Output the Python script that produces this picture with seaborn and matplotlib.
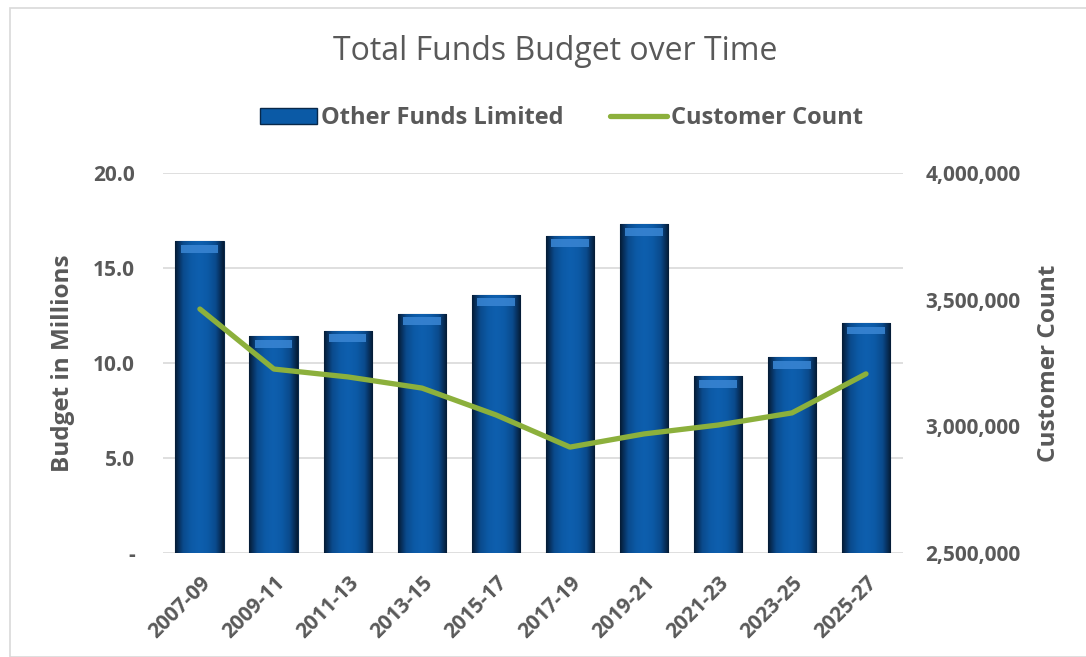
import numpy as np
import pandas as pd
import matplotlib
matplotlib.use("Agg")
import matplotlib.pyplot as plt
import seaborn as sns
from matplotlib.patches import Rectangle
from matplotlib.lines import Line2D
from matplotlib.ticker import FuncFormatter
from matplotlib.colors import LinearSegmentedColormap

periods = ["2007-09", "2009-11", "2011-13", "2013-15", "2015-17",
           "2017-19", "2019-21", "2021-23", "2023-25", "2025-27"]
budget_millions = [16.4, 11.4, 11.7, 12.6, 13.6, 16.7, 17.3, 9.3, 10.3, 12.1]
customer_count = [3463000, 3226000, 3195000, 3151000, 3045000,
                  2918000, 2970000, 3005000, 3053000, 3207000]

sns.set_theme(style="white")
plt.rcParams['font.family'] = ['Open Sans', 'DejaVu Sans']

GRAY = "#595959"
BAR = "#0B5AA6"
GREEN = "#8CB03C"
TICK_FS = 15

df = pd.DataFrame({"period": periods, "budget": budget_millions, "customers": customer_count})

fig = plt.figure(figsize=(10.86, 6.57), dpi=100)
ax = fig.add_axes([0.150, 0.1583, 0.6815, 0.5784])

sns.barplot(data=df, x="period", y="budget", ax=ax, color=BAR, width=0.66,
            edgecolor="#08284A", linewidth=0.8, saturation=1, zorder=2)

# bevel-like gradient on each bar
cmap = LinearSegmentedColormap.from_list(
    "bev", ["#051A33", "#0A4A8C", "#0C5AA6", "#0E5FAE", "#0C5AA6", "#0A4A8C", "#051A33"])
for p in list(ax.patches):
    x0, y0 = p.get_x(), p.get_y()
    w, h = p.get_width(), p.get_height()
    im = ax.imshow(np.tile(np.linspace(0, 1, 256), (2, 1)), cmap=cmap, aspect="auto",
                   extent=(x0, x0 + w, y0, y0 + h), zorder=2.5, interpolation="bicubic")
    im.set_clip_path(p)
    ax.add_patch(Rectangle((x0 + w * 0.12, y0 + h - 0.6), w * 0.76, 0.4,
                           facecolor="#3A86D4", edgecolor="none", zorder=2.7, alpha=0.85))

ax.set_xlim(-0.5, len(periods) - 0.5)
ax.set_ylim(0, 20)
ax.set_yticks([0, 5, 10, 15, 20])
ax.yaxis.set_major_formatter(FuncFormatter(lambda v, _: "-" if v == 0 else f"{v:.1f}"))
ax.grid(axis="y", color="#D9D9D9", linewidth=1.2, zorder=0)
ax.set_axisbelow(True)
for s in ax.spines.values():
    s.set_visible(False)
ax.set_xlabel("")
ax.set_ylabel("Budget in Millions", fontsize=17.5, fontweight="bold", color=GRAY, labelpad=13)
ax.tick_params(axis="y", length=0, labelsize=TICK_FS, labelcolor=GRAY, pad=20)
ax.tick_params(axis="x", length=0, labelsize=TICK_FS, labelcolor=GRAY, pad=14)
for t in ax.get_yticklabels():
    t.set_fontweight("bold")
for t in ax.get_xticklabels():
    t.set_fontweight("bold")
    t.set_rotation(45)
    t.set_ha("right")
    t.set_rotation_mode("anchor")

ax2 = ax.twinx()
sns.lineplot(data=df, x="period", y="customers", ax=ax2, color=GREEN, linewidth=3.8,
             sort=False, zorder=5)
ax2.set_ylim(2500000, 4000000)
ax2.set_yticks([2500000, 3000000, 3500000, 4000000])
ax2.yaxis.set_major_formatter(FuncFormatter(lambda v, _: f"{int(v):,}"))
ax2.tick_params(axis="y", length=0, labelsize=TICK_FS, labelcolor=GRAY, pad=16)
for t in ax2.get_yticklabels():
    t.set_fontweight("bold")
for s in ax2.spines.values():
    s.set_visible(False)
ax2.set_ylabel("Customer Count", fontsize=17.5, fontweight="bold", color=GRAY, labelpad=12)
ax2.set_xlabel("")
ax2.grid(False)

fig.text(0.511, 0.922, "Total Funds Budget over Time", ha="center", va="center",
         fontsize=23, color=GRAY)

handles = [Rectangle((0, 0), 1, 1, facecolor=BAR, edgecolor="#08284A"),
           Line2D([0], [0], color=GREEN, linewidth=3.8)]
leg = fig.legend(handles, ["Other Funds Limited", "Customer Count"], loc="center",
                 bbox_to_anchor=(0.517, 0.820), ncol=2, frameon=False,
                 prop={"size": 17, "weight": "bold"}, handlelength=2.4,
                 handletextpad=0.15, columnspacing=2.0)
for t in leg.get_texts():
    t.set_color(GRAY)

fig.patches.append(Rectangle((10 / 1086, 0), 1.2, 1 - 8 / 657, transform=fig.transFigure,
                             fill=False, edgecolor="#D9D9D9", linewidth=1.2, zorder=0))

fig.savefig("out.png", dpi=100)
